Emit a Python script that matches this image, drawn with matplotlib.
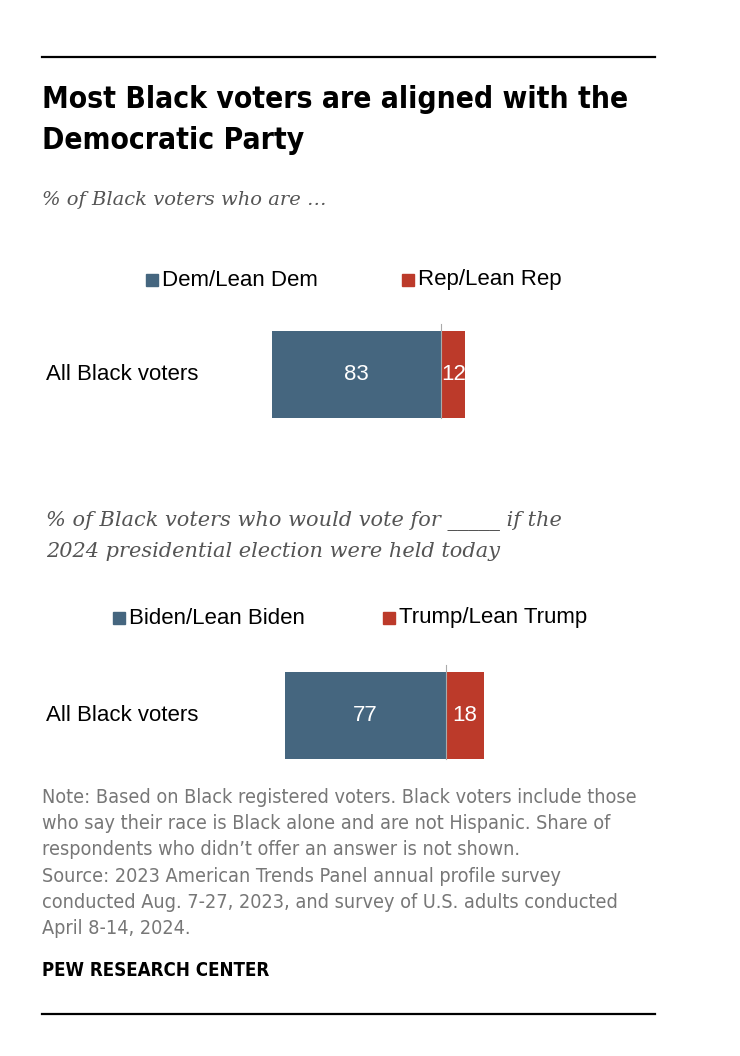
import matplotlib.pyplot as plt

W, H = 740, 1056

party_labels = ['Dem/Lean Dem', 'Rep/Lean Rep']
party_values = [83, 12]
vote_labels = ['Biden/Lean Biden', 'Trump/Lean Trump']
vote_values = [77, 18]
row_label = 'All Black voters'

blue = '#45667f'
red = '#bc3a2a'
gray = '#777777'
cond = dict(family='DejaVu Sans', stretch='condensed')
sans = ['Liberation Sans', 'DejaVu Sans']
serif = ['DejaVu Serif']


def fx(px):
    return px / W


def fy(px):
    return 1 - px / H


fig = plt.figure(figsize=(W / 100, H / 100), dpi=100)

# rules
for y in (57, 1014):
    fig.add_artist(plt.Line2D([fx(42), fx(655)], [fy(y), fy(y)], color='black', lw=1.6))

fig.text(fx(42), fy(120), 'Most Black voters are aligned with the\nDemocratic Party',
         weight='bold', fontsize=21.5, va='center', ha='left',
         linespacing=1.5, **cond)
fig.text(fx(42), fy(200), '% of Black voters who are …', family=serif, style='italic',
         fontsize=14, color='#555555', va='center')


def panel(values, labels, bar_top, bar_bot, divider, scale, leg_y, leg_x):
    ax = fig.add_axes([0, fy(bar_bot), 1, (bar_bot - bar_top) / H])
    ax.set_xlim(-divider / scale, (W - divider) / scale)
    ax.set_ylim(-0.5, 0.5)
    ax.axis('off')
    ax.barh(0, -values[0], height=1, left=0, color=blue)
    ax.barh(0, values[1], height=1, left=0, color=red)
    ax.axvline(0, ymin=0, ymax=1.08, color='#aaaaaa', lw=0.8, clip_on=False)
    ax.text(-values[0] / 2, 0, str(values[0]), color='white', fontsize=16,
            family=sans, ha='center', va='center')
    ax.text(values[1] / 2, 0, str(values[1]), color='white', fontsize=16,
            family=sans, ha='center', va='center')
    fig.text(fx(46), fy((bar_top + bar_bot) / 2), row_label, family=sans, fontsize=16,
             va='center')
    for lab, col, x in zip(labels, [blue, red], leg_x):
        fig.patches.append(plt.Rectangle((fx(x), fy(leg_y + 6)), 12 / W, 12 / H,
                                         color=col, transform=fig.transFigure))
        fig.text(fx(x + 16), fy(leg_y), lab, family=sans, fontsize=16, va='center')


panel(party_values, party_labels, 331, 418, 441, 2.04, 280, [146, 402])

fig.text(fx(46), fy(536), '% of Black voters who would vote for _____ if the\n'
         '2024 presidential election were held today', family=serif, style='italic',
         fontsize=15, color='#555555', va='center', linespacing=1.72)

panel(vote_values, vote_labels, 672, 759, 446, 2.09, 618, [113, 383])

note = ("Note: Based on Black registered voters. Black voters include those\n"
        "who say their race is Black alone and are not Hispanic. Share of\n"
        "respondents who didn’t offer an answer is not shown.\n"
        "Source: 2023 American Trends Panel annual profile survey\n"
        "conducted Aug. 7-27, 2023, and survey of U.S. adults conducted\n"
        "April 8-14, 2024.")
fig.text(fx(42), fy(788), note, fontsize=14.2, color=gray, va='top',
         linespacing=1.48, **cond)
fig.text(fx(42), fy(970), 'PEW RESEARCH CENTER', weight='bold',
         fontsize=13.4, va='center', **cond)

fig.savefig('out.png', dpi=100)
